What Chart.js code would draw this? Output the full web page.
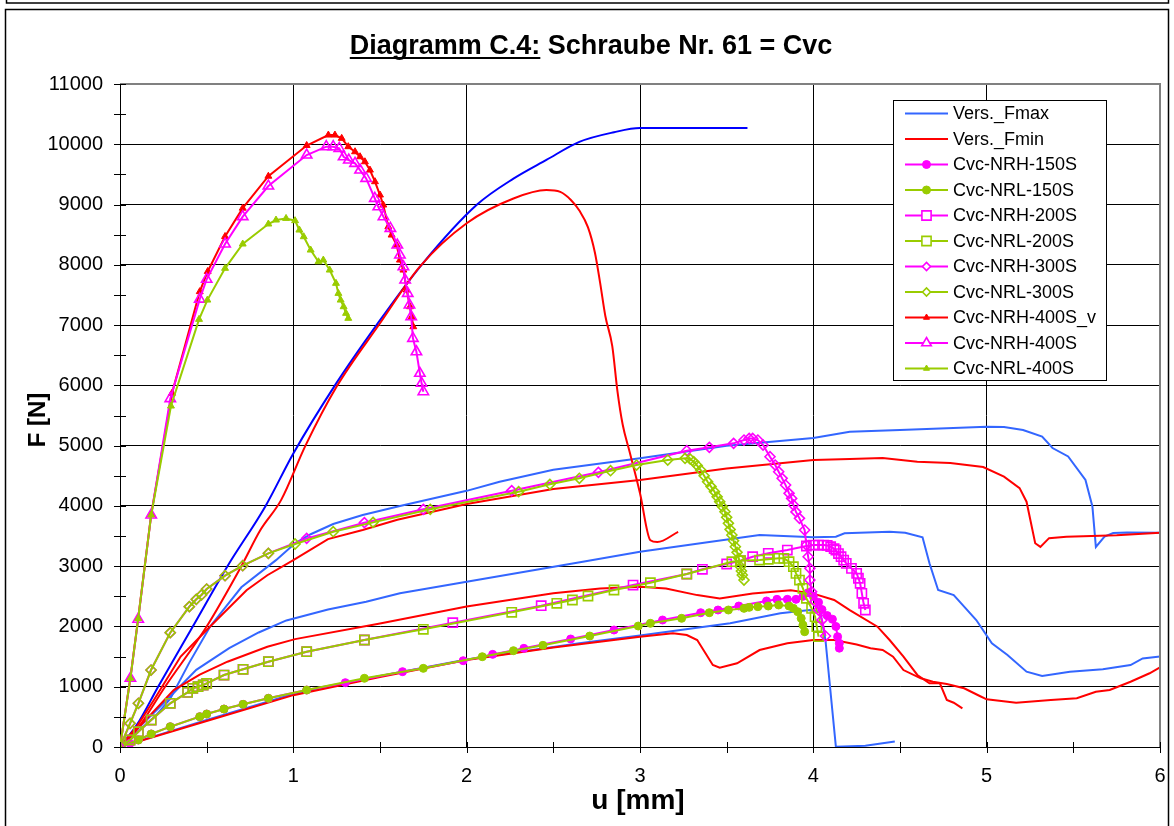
<!DOCTYPE html>
<html lang="de">
<head>
<meta charset="UTF-8">
<title>Diagramm C.4: Schraube Nr. 61 = Cvc</title>
<script src="https://cdn.jsdelivr.net/npm/chart.js"></script>
<style>
  html, body { margin: 0; padding: 0; background: #fff; }
  canvas { display: block; }
</style>
</head>
<body>
<canvas id="c4Chart" width="1174" height="826"></canvas>
<script>
// Messwerte: [u in mm, F in N]
const versFmax1 = [[0,0],[0.1,380],[0.22,1000],[0.42,2000],[0.62,3000],[0.84,4000],[1.0,4870],[1.24,6000],[1.48,7000],[1.74,8000],[2.06,9000],[2.27,9430],[2.46,9740],[2.65,10040],[2.85,10200],[3.0,10270],[3.62,10270]];
const versFmax2 = [[0,0],[0.1,250],[0.2,500],[0.29,800],[0.4,1400],[0.52,2000],[0.7,2650],[0.9,3100],[1.01,3380],[1.1,3530],[1.23,3700],[1.4,3850],[1.615,4000],[2.0,4250],[2.19,4400],[2.5,4600],[3.0,4790],[3.5,5000],[4.0,5125],[4.21,5230],[4.5,5260],[5.0,5314],[5.1,5310],[5.21,5260],[5.32,5150],[5.38,4960],[5.47,4820],[5.57,4430],[5.61,3990],[5.63,3320],[5.68,3490],[5.73,3550],[5.81,3560],[6.0,3555]];
const versFmax3 = [[0,0],[0.1,300],[0.27,780],[0.44,1280],[0.63,1640],[0.8,1900],[0.96,2100],[1.2,2280],[1.42,2410],[1.615,2550],[2.0,2740],[2.67,3075],[3.0,3240],[3.4,3400],[3.69,3517],[4.0,3480],[4.13,3490],[4.18,3545],[4.44,3572],[4.53,3555],[4.63,3480],[4.67,3048],[4.72,2605],[4.81,2520],[4.87,2330],[4.94,2107],[5.03,1720],[5.12,1526],[5.23,1250],[5.32,1178],[5.48,1250],[5.67,1290],[5.83,1360],[5.9,1470],[6.0,1500]];
const versFmax4 = [[0,0],[0.5,450],[1.0,880],[1.5,1180],[2.0,1450],[2.65,1720],[3.0,1850],[3.52,2052],[3.81,2218],[3.98,2273],[4.04,2245],[4.07,1775],[4.13,5],[4.3,20],[4.47,90]];

const versFmin1 = [[0,0],[0.1,300],[0.26,1000],[0.5,2000],[0.7,3000],[0.81,3600],[0.93,4100],[1.07,5000],[1.25,5980],[1.5,7030],[1.73,7970],[2.0,8690],[2.27,9100],[2.46,9240],[2.54,9210],[2.6,9080],[2.65,8900],[2.7,8620],[2.74,8200],[2.77,7700],[2.8,7150],[2.84,6650],[2.87,5900],[2.9,5350],[2.94,4900],[3.0,4210],[3.06,3430],[3.1,3400],[3.22,3570]];
const versFmin2 = [[0,0],[0.1,350],[0.2,800],[0.35,1500],[0.52,2000],[0.73,2600],[0.85,2850],[1.0,3100],[1.2,3450],[1.4,3600],[1.6,3770],[2.0,4030],[2.5,4280],[3.0,4430],[3.5,4620],[4.0,4760],[4.21,4778],[4.4,4795],[4.6,4733],[4.79,4710],[4.98,4645],[5.1,4485],[5.19,4295],[5.23,4070],[5.28,3380],[5.31,3320],[5.36,3465],[5.46,3490],[5.75,3515],[6.0,3555]];
const versFmin3 = [[0,0],[0.1,300],[0.31,945],[0.46,1200],[0.62,1415],[0.85,1664],[1.01,1790],[1.5,2050],[2.0,2330],[2.5,2550],[2.77,2630],[3.0,2660],[3.15,2630],[3.33,2520],[3.46,2465],[3.65,2545],[3.87,2600],[4.0,2545],[4.12,2440],[4.21,2272],[4.37,1996],[4.44,1775],[4.52,1500],[4.6,1195],[4.67,1057],[4.73,1057],[4.77,780],[4.81,735],[4.86,640]];
const versFmin4 = [[0,0],[0.5,430],[1.0,860],[1.5,1160],[2.0,1443],[2.5,1650],[3.0,1830],[3.19,1886],[3.27,1858],[3.33,1775],[3.42,1360],[3.46,1316],[3.56,1388],[3.69,1609],[3.85,1720],[4.0,1775],[4.12,1775],[4.25,1700],[4.33,1637],[4.40,1609],[4.46,1498],[4.52,1277],[4.62,1140],[4.69,1083],[4.77,1045],[4.87,974],[4.96,846],[5.0,791],[5.17,735],[5.37,780],[5.52,808],[5.63,917],[5.71,946],[5.83,1083],[5.94,1223],[6.0,1322]];

const nrh150 = [[0,0],[0.058,60],[0.106,116],[0.18,216],[0.29,337],[0.46,503],[0.5,547],[0.6,630],[0.71,708],[0.856,808],[1.077,945],[1.30,1067],[1.63,1250],[1.98,1432],[2.15,1537],[2.33,1637],[2.6,1792],[2.85,1941],[3.13,2107],[3.35,2228],[3.45,2273],[3.57,2339],[3.73,2422],[3.79,2450],[3.85,2450],[3.90,2450],[3.94,2500],[3.97,2560],[4.0,2500],[4.03,2400],[4.05,2280],[4.08,2180],[4.11,2120],[4.13,2000],[4.14,1830],[4.15,1720],[4.15,1640]];
const nrl150 = [[0,0],[0.106,116],[0.18,216],[0.29,337],[0.46,503],[0.5,547],[0.6,630],[0.71,708],[0.856,808],[1.077,945],[1.41,1140],[1.75,1305],[2.09,1498],[2.27,1598],[2.44,1687],[2.71,1841],[2.99,2007],[3.06,2052],[3.24,2135],[3.4,2228],[3.51,2273],[3.6,2300],[3.63,2317],[3.68,2328],[3.74,2339],[3.8,2356],[3.86,2339],[3.885,2300],[3.91,2245],[3.93,2135],[3.94,2024],[3.95,1913]];
const nrh200 = [[0,0],[0.058,116],[0.106,254],[0.18,448],[0.29,725],[0.39,907],[0.42,974],[0.45,1000],[0.48,1029],[0.5,1057],[0.6,1194],[0.71,1289],[0.856,1415],[1.077,1581],[1.41,1775],[1.92,2062],[2.43,2344],[2.96,2687],[3.27,2870],[3.36,2948],[3.50,3036],[3.58,3091],[3.65,3157],[3.74,3213],[3.85,3268],[3.96,3335],[4.0,3351],[4.03,3351],[4.06,3351],[4.08,3345],[4.1,3323],[4.12,3290],[4.13,3268],[4.145,3210],[4.16,3157],[4.175,3100],[4.19,3047],[4.22,2964],[4.25,2880],[4.26,2800],[4.27,2716],[4.28,2550],[4.29,2384],[4.3,2273]];
const nrl200 = [[0,0],[0.058,116],[0.106,254],[0.18,448],[0.29,725],[0.39,907],[0.42,974],[0.45,1000],[0.48,1029],[0.5,1057],[0.6,1194],[0.71,1289],[0.856,1415],[1.077,1581],[1.41,1775],[1.75,1953],[2.26,2235],[2.52,2384],[2.61,2439],[2.70,2505],[2.85,2605],[3.06,2726],[3.27,2870],[3.53,3074],[3.58,3091],[3.69,3102],[3.74,3115],[3.80,3130],[3.83,3130],[3.86,3074],[3.885,2991],[3.9,2880],[3.92,2770],[3.94,2633],[3.96,2467],[3.99,2300],[4.01,2162],[4.02,1996],[4.03,1830]];
const nrh300 = [[0,0],[0.058,390],[0.106,725],[0.179,1277],[0.29,1897],[0.40,2328],[0.44,2450],[0.47,2522],[0.5,2621],[0.606,2842],[0.708,3008],[0.856,3213],[1.077,3462],[1.41,3722],[1.75,3943],[2.26,4253],[2.76,4557],[3.27,4916],[3.40,4972],[3.54,5038],[3.6,5093],[3.63,5120],[3.65,5120],[3.68,5093],[3.71,5010],[3.75,4816],[3.78,4678],[3.8,4567],[3.82,4457],[3.84,4346],[3.86,4208],[3.875,4125],[3.885,4015],[3.9,3900],[3.92,3794],[3.95,3600],[3.96,3351],[3.97,3157],[3.98,2964],[3.98,2770],[3.99,2577],[4.01,2411],[4.03,2273],[4.05,2107],[4.07,1841]];
const nrl300 = [[0,0],[0.058,393],[0.106,725],[0.179,1277],[0.29,1897],[0.40,2328],[0.44,2450],[0.47,2522],[0.5,2621],[0.606,2842],[0.708,3008],[0.856,3213],[1.01,3368],[1.23,3572],[1.46,3727],[1.79,3943],[2.30,4236],[2.48,4358],[2.65,4458],[2.83,4584],[2.98,4678],[3.16,4761],[3.26,4789],[3.29,4775],[3.31,4733],[3.33,4670],[3.35,4595],[3.37,4500],[3.39,4401],[3.41,4320],[3.43,4236],[3.445,4150],[3.46,4070],[3.475,3990],[3.49,3904],[3.50,3810],[3.51,3711],[3.52,3610],[3.53,3517],[3.54,3420],[3.55,3323],[3.56,3230],[3.57,3130],[3.58,2991],[3.585,2920],[3.59,2853],[3.6,2770]];
const nrh400v = [[0,0],[0.06,1150],[0.105,2140],[0.18,3860],[0.30,5870],[0.46,7555],[0.506,7890],[0.606,8470],[0.708,8940],[0.856,9470],[1.077,9980],[1.202,10153],[1.24,10153],[1.279,10098],[1.317,9960],[1.356,9876],[1.385,9793],[1.413,9710],[1.442,9572],[1.471,9379],[1.5,9158],[1.519,8992],[1.548,8632],[1.567,8494],[1.596,8328],[1.615,8079],[1.635,7913],[1.654,7582],[1.673,7305],[1.683,7139],[1.692,6973]];
const nrh400 = [[0,0],[0.06,1140],[0.105,2120],[0.18,3850],[0.29,5780],[0.46,7430],[0.50,7760],[0.606,8345],[0.708,8800],[0.856,9307],[1.077,9821],[1.19,9960],[1.23,9960],[1.265,9932],[1.29,9793],[1.32,9738],[1.356,9683],[1.385,9572],[1.42,9434],[1.47,9102],[1.49,8963],[1.52,8798],[1.56,8604],[1.6,8328],[1.615,8162],[1.635,7968],[1.645,7747],[1.66,7526],[1.67,7333],[1.68,7139],[1.69,6780],[1.71,6558],[1.73,6200],[1.74,6034],[1.75,5895]];
const nrl400 = [[0,0],[0.06,1140],[0.105,2130],[0.18,3850],[0.294,5657],[0.456,7095],[0.504,7415],[0.606,7942],[0.708,8345],[0.856,8677],[0.9,8743],[0.958,8770],[1.01,8732],[1.035,8577],[1.06,8466],[1.1,8245],[1.145,8051],[1.173,8079],[1.21,7913],[1.246,7693],[1.26,7526],[1.273,7415],[1.29,7305],[1.304,7195],[1.317,7112]];

const xTicks = [0, 1, 2, 3, 4, 5, 6];
const yTicks = [0, 1000, 2000, 3000, 4000, 5000, 6000, 7000, 8000, 9000, 10000, 11000];

const BLUE = '#0000ff', LBLUE = '#3366ff', RED = '#ff0000', MAG = '#ff00ff', GRN = '#99cc00';
const FONT = '"Liberation Sans", Arial, sans-serif';

const toXY = arr => arr.map(p => ({ x: p[0], y: p[1] }));

function lineSet(label, data, color, smooth) {
  return { label, data: toXY(data), borderColor: color, borderWidth: 2, pointRadius: 0,
           pointHoverRadius: 0, showLine: true, fill: false, tension: 0,
           cubicInterpolationMode: smooth ? 'monotone' : 'default' };
}
function markSet(label, data, color, style, r, filled) {
  return { label, data: toXY(data), borderColor: color, borderWidth: 2, showLine: true,
           fill: false, tension: 0, pointStyle: style, pointRadius: r,
           pointBorderColor: color, pointBorderWidth: filled ? 1 : 1.6,
           pointBackgroundColor: filled ? color : 'rgba(0,0,0,0)' };
}

const datasets = [
  lineSet('Vers._Fmax', versFmax1, BLUE, true),
  lineSet('Vers._Fmax', versFmax2, LBLUE),
  lineSet('Vers._Fmax', versFmax3, LBLUE),
  lineSet('Vers._Fmax', versFmax4, LBLUE),
  lineSet('Vers._Fmin', versFmin1, RED, true),
  lineSet('Vers._Fmin', versFmin2, RED),
  lineSet('Vers._Fmin', versFmin3, RED),
  lineSet('Vers._Fmin', versFmin4, RED),
  markSet('Cvc-NRH-150S', nrh150, MAG, 'circle', 4, true),
  markSet('Cvc-NRL-150S', nrl150, GRN, 'circle', 4, true),
  markSet('Cvc-NRH-200S', nrh200, MAG, 'rect', 6.5, false),
  markSet('Cvc-NRL-200S', nrl200, GRN, 'rect', 6.5, false),
  markSet('Cvc-NRH-300S', nrh300, MAG, 'rectRot', 5, false),
  markSet('Cvc-NRL-300S', nrl300, GRN, 'rectRot', 5, false),
  markSet('Cvc-NRH-400S_v', nrh400v, RED, 'triangle', 4, true),
  markSet('Cvc-NRH-400S', nrh400, MAG, 'triangle', 6, false),
  markSet('Cvc-NRL-400S', nrl400, GRN, 'triangle', 4, true)
];
// later series on top
datasets.forEach((d, i) => { d.order = datasets.length - i; });

// legend rows: label, colour, marker style, radius, filled
const legendRows = [
  ['Vers._Fmax', LBLUE, null, 0, false],
  ['Vers._Fmin', RED, null, 0, false],
  ['Cvc-NRH-150S', MAG, 'circle', 4, true],
  ['Cvc-NRL-150S', GRN, 'circle', 4, true],
  ['Cvc-NRH-200S', MAG, 'rect', 6.5, false],
  ['Cvc-NRL-200S', GRN, 'rect', 6.5, false],
  ['Cvc-NRH-300S', MAG, 'rectRot', 4, false],
  ['Cvc-NRL-300S', GRN, 'rectRot', 4, false],
  ['Cvc-NRH-400S_v', RED, 'triangle', 3.5, true],
  ['Cvc-NRH-400S', MAG, 'triangle', 5.5, false],
  ['Cvc-NRL-400S', GRN, 'triangle', 3.5, true]
];

const decor = {
  id: 'decor',
  beforeDraw(chart) {
    const ctx = chart.ctx;
    ctx.save();
    ctx.fillStyle = '#fff';
    ctx.fillRect(0, 0, chart.width, chart.height);
    ctx.restore();
  },
  afterDraw(chart) {
    const ctx = chart.ctx;
    const xs = chart.scales.x, ys = chart.scales.y;
    const a = chart.chartArea;
    ctx.save();

    // outer frames
    ctx.strokeStyle = '#000';
    ctx.lineWidth = 1.5;
    ctx.strokeRect(6.5, -20, 1162, 23);
    ctx.strokeRect(5.5, 9.5, 1163, 830);

    // grey plot border top and right
    ctx.strokeStyle = '#808080';
    ctx.lineWidth = 2;
    ctx.beginPath();
    ctx.moveTo(a.left, a.top);
    ctx.lineTo(a.right, a.top);
    ctx.lineTo(a.right, a.bottom);
    ctx.stroke();

    // minor ticks
    ctx.strokeStyle = '#000';
    ctx.lineWidth = 1;
    ctx.beginPath();
    for (let v = 0; v <= 11000; v += 500) {
      const y = Math.round(ys.getPixelForValue(v)) + 0.5;
      ctx.moveTo(a.left - 6, y);
      ctx.lineTo(a.left + 6, y);
    }
    for (let v = 0; v <= 6; v += 0.5) {
      const x = Math.round(xs.getPixelForValue(v)) + 0.5;
      ctx.moveTo(x, a.bottom - 5);
      ctx.lineTo(x, a.bottom + 6);
    }
    ctx.stroke();

    // x tick labels
    ctx.fillStyle = '#000';
    ctx.font = '20px ' + FONT;
    ctx.textAlign = 'center';
    ctx.textBaseline = 'top';
    xTicks.forEach(v => ctx.fillText(String(v), xs.getPixelForValue(v), a.bottom + 19));

    // title with underlined prefix
    ctx.textAlign = 'left';
    ctx.textBaseline = 'alphabetic';
    ctx.font = 'bold 27px ' + FONT;
    const t1 = 'Diagramm C.4:', t2 = ' Schraube Nr. 61 = Cvc';
    const w1 = ctx.measureText(t1).width, w2 = ctx.measureText(t2).width;
    const tx = 591 - (w1 + w2) / 2, ty = 54;
    ctx.fillText(t1, tx, ty);
    ctx.fillText(t2, tx + w1, ty);
    ctx.fillRect(tx, ty + 3, w1, 2);

    // axis titles
    ctx.textAlign = 'center';
    ctx.textBaseline = 'middle';
    ctx.font = 'bold 28px ' + FONT;
    ctx.fillText('u [mm]', 638, 801);
    ctx.font = 'bold 24px ' + FONT;
    ctx.save();
    ctx.translate(38, 420);
    ctx.rotate(-Math.PI / 2);
    ctx.fillText('F [N]', 0, 0);
    ctx.restore();

    // legend box
    const lx = 893.5, ly = 100.5, lw = 213, lh = 280;
    ctx.fillStyle = '#fff';
    ctx.fillRect(lx, ly, lw, lh);
    ctx.strokeStyle = '#000';
    ctx.lineWidth = 1;
    ctx.strokeRect(lx, ly, lw, lh);
    ctx.font = '18px ' + FONT;
    ctx.textAlign = 'left';
    legendRows.forEach((row, i) => {
      const [label, color, style, r, filled] = row;
      const y = 113.5 + i * 25.5;
      ctx.strokeStyle = color;
      ctx.lineWidth = 2;
      ctx.beginPath();
      ctx.moveTo(905, y);
      ctx.lineTo(948, y);
      ctx.stroke();
      if (style) {
        ctx.fillStyle = filled ? color : '#fff';
        ctx.lineWidth = filled ? 1 : 1.6;
        Chart.helpers.drawPoint(ctx, { pointStyle: style, radius: r, rotation: 0, borderWidth: ctx.lineWidth }, 926.5, y);
      }
      ctx.fillStyle = '#000';
      ctx.fillText(label, 953, y + 1);
    });
    ctx.restore();
  }
};

new Chart(document.getElementById('c4Chart'), {
  type: 'scatter',
  data: { datasets },
  options: {
    responsive: false,
    animation: false,
    devicePixelRatio: 1,
    layout: { padding: { top: 84, right: 14, left: 0, bottom: 0 } },
    plugins: { legend: { display: false }, title: { display: false }, tooltip: { enabled: false } },
    events: [],
    scales: {
      x: {
        type: 'linear', min: 0, max: 6,
        afterFit: s => { s.height = 79; },
        afterBuildTicks: s => { s.ticks = xTicks.map(v => ({ value: v })); },
        grid: { color: '#000', lineWidth: 1, drawTicks: false },
        border: { color: '#000', width: 1 },
        ticks: { display: false }
      },
      y: {
        type: 'linear', min: 0, max: 11000,
        afterFit: s => { s.width = 120; },
        afterBuildTicks: s => { s.ticks = yTicks.map(v => ({ value: v })); },
        grid: { color: '#000', lineWidth: 1, drawTicks: false },
        border: { color: '#000', width: 1 },
        ticks: { color: '#000', font: { family: FONT, size: 20 }, padding: 17,
                 callback: v => String(v) }
      }
    }
  },
  plugins: [decor]
});
</script>
</body>
</html>
